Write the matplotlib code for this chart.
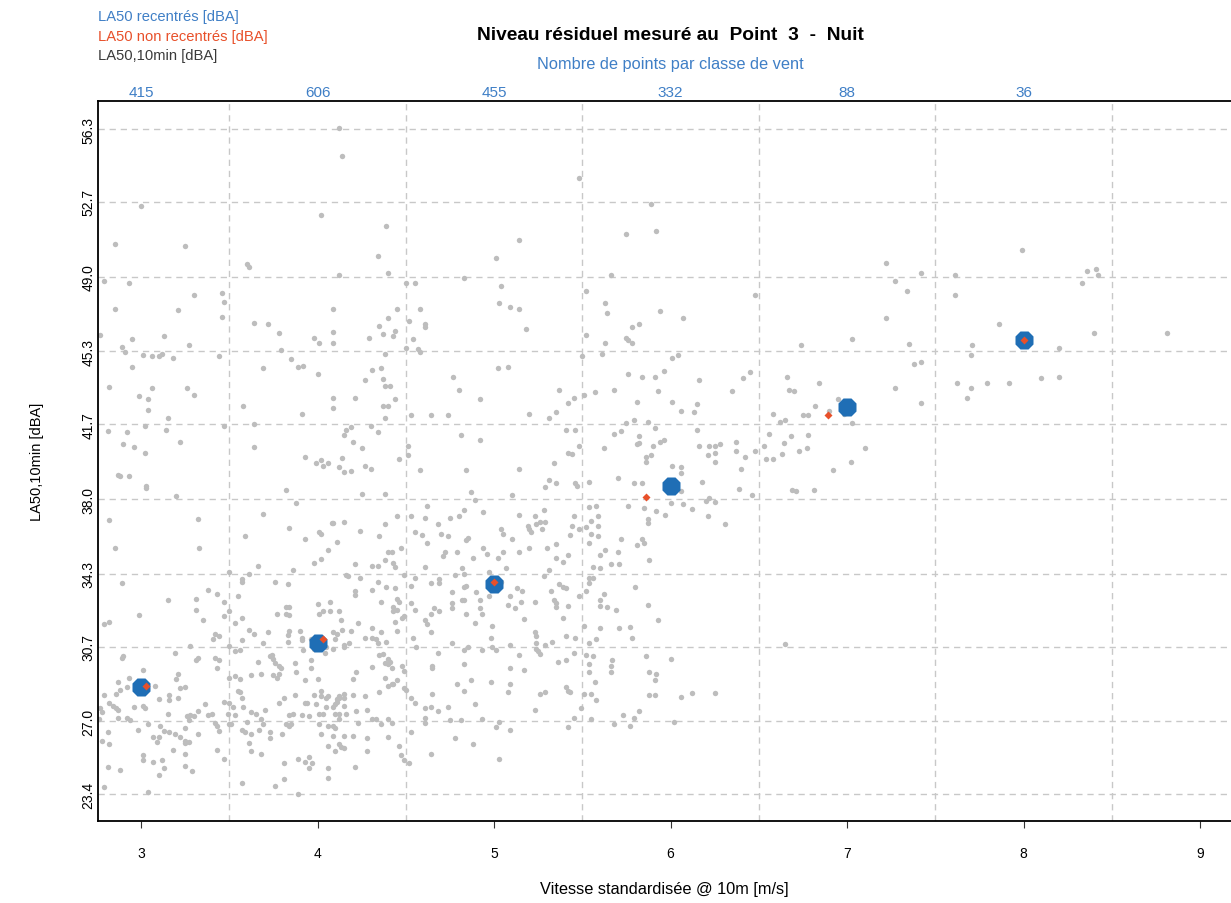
import matplotlib
matplotlib.use("Agg")
import matplotlib.pyplot as plt
import matplotlib.transforms as mtransforms
import numpy as np

plt.rcParams['font.family'] = ['Liberation Sans', 'DejaVu Sans']

# ---------------- data ----------------
# individual 10-min samples (wind speed [m/s], LA50 [dBA])
points_10min = [
    (4.12, 56.33), (4.14, 54.95), (3.00, 52.5), (4.02, 52.05), (4.39, 51.5), (2.85, 50.6), (3.25, 50.5),
    (4.34, 50.0), (3.60, 49.65), (3.61, 49.5), (4.12, 49.1), (4.40, 49.2), (2.79, 48.8), (2.93, 48.7),
    (3.30, 48.1), (3.46, 48.2), (3.47, 47.75), (3.46, 47.0), (2.85, 47.4), (3.21, 47.36), (4.09, 47.4),
    (4.40, 46.97), (3.64, 46.7), (3.72, 46.64), (3.78, 46.2), (2.77, 46.1), (2.95, 45.9), (3.13, 46.05),
    (3.98, 45.98), (4.09, 46.24), (4.29, 45.98), (4.35, 46.57), (4.37, 46.17),
    (5.48, 53.9), (5.89, 52.6), (5.75, 51.1), (5.92, 51.25), (5.14, 50.8), (5.01, 49.9), (5.66, 49.1),
    (4.83, 48.95), (4.50, 48.7), (4.55, 48.7), (5.04, 48.55), (5.52, 48.3), (4.45, 47.4), (4.58, 47.4),
    (5.03, 47.7), (5.09, 47.5), (5.14, 47.4), (5.63, 47.7), (5.64, 47.2), (5.94, 47.3), (6.07, 46.97),
    (4.52, 46.8), (4.61, 46.64), (4.61, 46.5), (5.18, 46.4), (4.44, 46.3), (4.43, 46.05), (4.54, 45.9),
    (5.52, 46.1), (5.75, 45.98), (5.78, 46.5), (5.82, 46.64),
    (6.48, 48.1), (7.22, 49.7), (7.27, 48.8), (7.42, 49.2), (7.34, 48.3), (7.61, 49.1), (7.61, 48.1),
    (7.22, 46.97), (7.03, 45.9),
    (7.99, 50.3), (8.36, 49.3), (8.41, 49.4), (8.42, 49.1), (8.33, 48.7), (7.86, 46.64), (8.40, 46.2),
    (8.81, 46.2),
    (7.71, 45.6), (8.20, 45.45), (7.70, 43.47), (7.79, 43.73), (7.92, 43.73), (8.10, 44.0), (8.20, 44.06),
    (6.74, 45.6), (7.35, 45.65), (7.38, 44.66), (7.42, 44.79), (7.70, 45.1), (7.62, 43.73), (7.68, 43.0),
    (7.42, 42.75), (7.27, 43.47), (6.16, 43.87), (6.41, 44.0), (6.45, 44.26), (6.35, 43.34), (6.66, 44.06),
    (6.84, 43.73), (6.67, 43.4), (6.70, 43.34), (6.95, 42.94), (6.82, 42.6), (6.90, 42.35), (6.98, 42.2),
    (6.75, 42.15), (6.78, 42.15), (6.58, 42.2), (6.62, 41.82), (6.65, 41.92), (6.15, 42.68), (6.13, 42.3),
    (6.06, 42.35), (7.03, 41.75), (6.15, 41.4), (6.56, 41.23), (6.68, 41.1), (6.78, 41.16), (6.16, 40.63),
    (6.22, 40.63), (6.25, 40.63), (6.28, 40.73), (6.25, 40.3), (6.21, 40.17), (6.37, 40.83), (6.37, 40.37),
    (6.53, 40.63), (6.64, 40.77), (6.48, 40.37), (6.42, 40.1), (6.54, 39.97), (6.58, 39.97), (6.63, 40.24),
    (6.73, 40.37), (6.77, 40.5), (7.10, 40.5), (6.25, 39.85), (6.40, 39.5), (7.02, 39.85), (6.92, 39.45),
    (6.06, 39.6), (6.06, 39.3), (6.18, 38.85), (6.39, 38.5), (6.46, 38.2), (6.69, 38.46), (6.71, 38.4),
    (6.81, 38.46), (6.06, 38.4), (6.07, 37.73), (6.12, 37.5), (6.20, 37.9), (6.22, 38.06), (6.25, 37.87),
    (6.21, 37.14), (6.31, 36.74),
    (6.65, 30.84), (6.06, 28.2), (6.12, 28.4), (6.25, 28.4),
    (4.50, 45.45), (4.57, 45.4), (4.58, 45.25), (5.50, 45.05), (5.61, 45.18), (5.63, 45.7), (5.76, 45.88),
    (5.78, 45.7), (6.01, 45.0), (6.04, 45.1), (5.02, 44.46), (5.08, 44.53), (4.77, 44.06), (5.76, 44.2),
    (5.84, 44.06), (5.91, 44.06), (5.96, 44.33), (4.44, 42.94), (4.80, 43.4), (4.92, 42.94), (5.37, 43.4),
    (5.57, 43.27), (5.51, 43.14), (5.68, 43.4), (5.93, 43.34), (5.45, 43.0), (5.42, 42.75), (5.81, 42.8),
    (6.01, 42.8), (4.53, 42.15), (4.64, 42.15), (4.74, 42.15), (5.20, 42.2), (5.31, 42.0), (5.35, 42.3),
    (4.81, 41.16), (4.92, 40.9), (5.41, 41.43), (5.46, 41.43), (5.68, 41.23), (5.72, 41.36), (5.75, 41.76),
    (5.79, 41.9), (5.87, 41.82), (5.91, 41.5), (5.82, 41.1), (5.81, 40.7), (5.82, 40.77), (5.90, 40.63),
    (5.94, 40.83), (5.96, 40.9), (5.62, 40.5), (5.48, 40.63), (4.51, 40.63), (4.51, 40.17), (4.46, 39.97),
    (5.42, 40.3), (5.44, 40.24), (5.86, 40.1), (5.89, 40.17), (5.86, 39.85), (4.58, 39.45), (4.84, 39.45),
    (5.14, 39.5), (5.34, 39.78), (6.01, 39.64), (5.70, 39.05), (5.31, 38.92), (5.35, 38.8), (5.29, 38.6),
    (5.46, 38.8), (5.47, 38.66), (5.54, 38.85), (5.79, 38.8), (5.84, 38.8), (4.87, 38.33), (4.89, 37.93),
    (5.10, 38.2), (5.76, 37.67), (5.85, 37.54), (6.00, 37.8), (5.92, 37.4), (5.97, 37.2), (5.87, 37.0),
    (5.87, 36.8), (4.62, 37.67), (4.45, 37.14), (4.53, 37.14), (4.61, 37.07), (4.75, 37.07), (4.80, 37.14),
    (4.83, 37.47), (4.94, 37.34), (5.14, 37.2), (5.23, 37.14), (5.28, 37.47), (5.45, 37.14), (5.54, 37.6),
    (5.58, 37.67), (5.59, 37.14), (4.68, 36.74), (5.19, 36.68), (5.24, 36.74), (5.26, 36.88), (5.29, 36.88),
    (5.44, 36.68), (5.55, 36.9), (5.52, 36.6), (5.59, 36.68), (5.48, 36.5), (4.55, 36.35), (4.59, 36.2),
    (4.70, 36.28), (4.74, 36.15), (4.85, 36.08), (4.84, 35.95), (5.04, 36.5), (5.05, 36.28), (5.20, 36.5),
    (5.21, 36.35), (5.27, 36.5), (5.43, 36.2), (5.55, 36.28), (5.59, 36.15), (5.10, 36.0), (4.62, 35.8),
    (5.30, 35.56), (5.35, 35.75), (5.54, 35.8), (5.72, 36.0), (5.81, 35.7), (5.84, 36.0), (5.85, 35.8),
    (4.94, 35.6), (4.96, 35.3), (4.47, 35.56), (4.42, 35.4), (4.72, 35.4), (4.71, 35.16), (4.79, 35.4),
    (4.88, 35.09), (5.05, 35.4), (5.02, 35.09), (5.14, 35.36), (5.20, 35.56), (5.35, 35.09), (5.39, 34.9),
    (5.42, 35.23), (5.60, 35.23), (5.63, 35.5), (5.70, 35.36), (5.66, 34.77), (5.71, 34.77), (5.88, 34.96),
    (4.43, 34.83), (4.44, 34.63), (4.61, 34.63), (4.82, 34.57), (5.07, 34.57), (5.31, 34.5), (5.56, 34.63),
    (5.60, 34.57), (4.49, 34.24), (4.55, 34.1), (4.69, 34.04), (4.78, 34.24), (4.83, 34.3), (4.97, 34.37),
    (5.28, 34.17), (5.54, 34.1), (5.56, 34.1),
    (4.44, 33.58), (4.45, 33.05), (4.46, 32.92), (4.43, 32.65), (4.43, 32.46), (4.45, 32.52), (4.53, 33.71),
    (4.64, 33.84), (4.69, 33.84), (4.83, 33.64), (4.84, 33.71), (4.76, 33.38), (4.90, 33.38), (4.82, 32.99),
    (4.83, 32.99), (4.76, 32.85), (4.76, 32.6), (4.92, 32.99), (4.53, 32.85), (4.55, 32.52), (4.66, 32.6),
    (4.64, 32.33), (4.69, 32.46), (4.92, 32.6), (4.93, 32.33), (4.84, 32.33), (4.97, 33.19), (5.04, 33.9),
    (5.08, 32.78), (5.09, 33.19), (5.13, 33.58), (5.16, 33.45), (5.12, 32.6), (5.15, 32.92), (5.23, 32.92),
    (5.32, 33.45), (5.37, 33.78), (5.39, 33.64), (5.41, 33.58), (5.34, 32.99), (5.35, 32.85), (5.35, 32.65),
    (5.42, 32.72), (5.39, 32.12), (5.48, 33.19), (5.52, 33.45), (5.54, 33.84), (5.62, 33.31), (5.60, 32.99),
    (5.60, 32.72), (5.64, 32.65), (5.69, 32.52), (5.80, 33.64), (5.87, 32.78), (5.93, 31.99), (5.77, 31.66),
    (5.78, 31.13), (5.71, 31.6), (5.60, 31.6), (5.58, 31.07), (5.54, 30.87), (5.51, 31.73), (5.46, 31.13),
    (5.41, 31.2), (5.17, 32.06), (5.23, 31.4), (5.24, 31.2), (5.24, 30.87), (5.25, 30.48), (5.26, 30.34),
    (5.24, 30.6), (5.29, 30.8), (5.33, 30.94), (4.89, 31.86), (4.99, 31.73), (4.64, 31.4), (4.61, 31.99),
    (4.62, 31.8), (4.44, 31.93), (4.45, 31.47), (4.49, 32.2), (4.48, 32.12), (4.54, 31.13), (4.56, 30.67),
    (4.76, 30.87), (4.68, 30.4), (4.83, 30.54), (4.85, 30.67), (4.93, 30.54), (4.98, 31.13), (4.99, 30.67),
    (5.01, 30.54), (5.09, 30.8), (5.14, 30.28), (4.41, 29.95), (4.42, 29.62), (4.48, 29.75), (4.49, 29.49),
    (4.65, 29.75), (4.65, 29.62), (4.83, 29.82), (5.09, 29.62), (5.17, 29.55), (5.36, 29.95), (5.41, 30.02),
    (5.45, 30.4), (5.52, 30.28), (5.56, 30.22), (5.54, 29.82), (5.54, 29.43), (5.66, 29.43), (5.66, 29.75),
    (5.67, 30.02), (5.86, 30.22), (6.00, 30.08), (5.88, 29.43), (5.92, 29.36), (5.91, 29.03), (5.88, 28.3),
    (5.91, 28.3), (5.57, 28.97), (5.51, 28.37), (5.55, 28.37), (5.58, 28.04), (5.49, 27.64), (5.55, 27.11),
    (5.42, 26.72), (5.45, 27.18), (5.41, 28.7), (5.42, 28.5), (5.43, 28.43), (5.26, 28.37), (5.29, 28.43),
    (5.23, 27.58), (5.08, 28.43), (5.09, 28.83), (4.98, 28.97), (4.87, 29.03), (4.79, 28.83), (4.83, 28.5),
    (4.65, 28.37), (4.89, 27.84), (4.74, 27.71), (4.61, 27.64), (4.64, 27.71), (4.68, 27.51), (4.61, 27.18),
    (4.61, 26.92), (4.75, 27.05), (4.81, 27.05), (4.93, 27.11), (5.01, 26.72), (5.03, 26.98), (5.09, 26.58),
    (4.53, 28.17), (4.55, 27.9), (4.49, 28.63), (4.50, 28.57), (4.43, 28.83), (4.45, 29.03), (4.53, 26.45),
    (4.46, 25.79), (4.47, 25.33), (4.49, 25.07), (4.52, 24.94), (4.64, 25.4), (4.78, 26.19), (4.88, 25.86),
    (5.03, 25.13), (5.68, 26.85), (5.73, 27.3), (5.77, 26.78), (5.79, 27.18), (5.82, 27.51), (6.02, 26.98),
    (2.89, 45.5), (2.91, 45.25), (3.01, 45.1), (3.06, 45.05), (3.10, 45.05), (3.12, 45.18), (3.18, 44.99),
    (3.27, 45.6), (3.44, 45.05), (2.95, 44.53), (2.82, 43.54), (2.99, 43.08), (3.04, 42.94), (3.06, 43.47),
    (3.26, 43.47), (3.30, 43.14), (3.04, 42.4), (3.15, 42.0), (2.81, 41.36), (2.92, 41.3), (3.02, 41.63),
    (3.14, 41.43), (3.22, 40.83), (2.90, 40.7), (2.96, 40.57), (3.02, 40.3), (3.47, 41.63), (2.87, 39.18),
    (2.88, 39.12), (2.93, 39.12), (3.03, 38.65), (3.03, 38.53), (3.20, 38.13), (2.82, 36.94), (3.32, 37.0),
    (2.85, 35.6), (3.33, 35.6), (3.50, 34.37), (3.57, 34.04), (3.61, 34.3), (3.66, 34.7), (3.86, 34.5),
    (3.98, 34.83), (4.02, 35.03), (4.06, 35.5), (4.11, 35.89), (4.16, 34.24), (4.17, 34.17), (4.21, 34.77),
    (4.24, 34.1), (4.31, 34.7), (4.34, 34.7), (4.38, 34.96), (4.40, 35.4), (4.35, 36.15), (4.38, 36.74),
    (4.24, 36.41), (4.15, 36.88), (4.08, 36.8), (4.09, 36.8), (4.01, 36.35), (4.02, 36.28), (3.93, 36.0),
    (3.84, 36.55), (3.69, 37.27), (3.59, 36.15), (3.88, 37.8), (3.82, 38.46), (4.25, 38.26), (4.38, 38.26),
    (3.93, 40.1), (3.99, 39.78), (4.02, 39.91), (4.03, 39.64), (4.06, 39.78), (4.12, 39.58), (4.15, 39.32),
    (4.19, 39.38), (4.14, 40.04), (4.27, 39.64), (4.30, 39.5), (4.25, 40.5), (4.20, 40.83), (4.15, 41.16),
    (4.16, 41.43), (4.19, 41.56), (4.30, 41.63), (4.34, 41.3), (4.38, 42.0), (4.37, 42.6), (4.40, 42.6),
    (4.09, 43.0), (4.09, 42.48), (4.21, 43.0), (3.91, 42.2), (3.58, 42.6), (3.64, 41.69), (3.64, 40.57),
    (4.27, 43.87), (4.31, 44.39), (4.36, 44.46), (4.37, 43.93), (4.38, 43.6), (4.41, 43.6), (4.38, 45.18),
    (3.69, 44.46), (3.79, 45.38), (3.85, 44.92), (3.89, 44.53), (3.92, 44.59), (4.00, 44.2), (4.01, 45.71),
    (4.09, 45.71),
    (2.89, 33.84), (2.99, 32.26), (3.15, 32.99), (2.79, 31.8), (2.82, 31.93), (2.89, 30.15), (2.90, 30.22),
    (3.01, 29.55), (2.93, 29.16), (2.87, 28.96), (2.88, 28.56), (2.86, 28.37), (2.92, 28.7), (2.79, 28.3),
    (2.82, 27.9), (2.84, 27.77), (2.86, 27.64), (2.87, 27.58), (2.77, 27.64), (2.78, 27.44), (2.76, 27.11),
    (2.96, 27.71), (3.01, 27.77), (3.02, 27.64), (3.08, 28.76), (3.10, 28.1), (3.16, 28.3), (3.21, 29.36),
    (3.20, 29.09), (3.22, 28.63), (3.25, 28.7), (3.16, 28.04), (3.21, 28.17), (3.15, 27.38), (3.04, 26.85),
    (2.98, 26.58), (2.92, 27.18), (2.94, 27.05), (2.87, 27.18), (2.81, 26.45), (2.78, 26.05), (2.82, 25.86),
    (3.11, 26.78), (3.13, 26.52), (3.16, 26.45), (3.07, 26.22), (3.10, 26.22), (3.09, 25.99), (3.19, 26.39),
    (3.22, 26.22), (3.25, 26.65), (3.27, 27.05), (3.28, 27.31), (3.26, 27.25), (3.30, 27.25), (3.25, 26.05),
    (3.25, 25.92), (3.27, 25.99), (3.32, 26.39), (3.32, 27.51), (3.38, 27.31), (3.36, 27.84), (3.40, 27.38),
    (3.42, 26.92), (3.43, 26.78), (3.44, 26.52), (3.18, 25.6), (3.25, 25.4), (3.01, 25.33), (3.01, 25.07),
    (3.07, 25.0), (3.12, 25.07), (3.13, 24.67), (3.10, 24.34), (3.25, 24.8), (3.29, 24.54), (2.81, 24.74),
    (2.88, 24.6), (2.79, 23.75), (3.04, 23.49), (3.38, 33.51), (3.43, 33.31), (3.31, 33.05), (3.31, 32.52),
    (3.47, 32.92), (3.50, 32.46), (3.47, 32.2), (3.35, 31.99), (3.42, 31.34), (3.41, 31.07), (3.44, 31.2),
    (3.50, 30.74), (3.28, 30.74), (3.19, 30.4), (3.32, 30.15), (3.31, 30.02), (3.42, 30.15), (3.44, 30.02),
    (3.43, 29.62), (3.47, 27.98), (3.50, 27.9), (3.52, 27.71), (3.49, 27.38), (3.50, 26.85), (3.51, 26.85),
    (3.53, 27.31), (3.60, 26.98), (3.57, 26.58), (3.59, 26.45), (3.62, 26.39), (3.67, 26.58), (3.68, 27.11),
    (3.69, 26.85), (3.73, 26.45), (3.61, 25.92), (3.68, 25.4), (3.62, 25.53), (3.73, 26.19), (3.56, 28.43),
    (3.55, 28.5), (3.57, 28.17), (3.58, 27.71), (3.62, 27.44), (3.65, 27.38), (3.70, 27.58), (3.53, 29.23),
    (3.56, 29.09), (3.50, 29.16), (3.56, 30.54), (3.53, 30.48), (3.57, 31.0), (3.53, 31.86), (3.57, 32.12),
    (3.61, 31.53), (3.64, 31.34), (3.72, 31.4), (3.55, 33.19), (3.57, 33.9), (3.66, 29.95), (3.68, 29.36),
    (3.62, 29.29), (3.75, 29.29), (3.78, 29.36), (3.77, 29.16), (3.73, 30.22), (3.75, 30.08), (3.74, 30.28),
    (3.76, 29.88), (3.78, 29.75), (3.79, 29.62), (3.69, 30.87), (3.77, 32.33), (3.82, 32.65), (3.84, 32.65),
    (3.82, 32.33), (3.84, 32.26), (3.76, 33.9), (3.83, 33.78), (3.84, 31.47), (3.83, 31.27), (3.83, 30.94),
    (3.90, 31.47), (3.91, 31.13), (3.92, 30.54), (3.87, 29.88), (3.88, 29.43), (3.96, 29.62), (3.96, 30.02),
    (4.00, 29.09), (3.93, 29.03), (3.87, 28.3), (3.81, 28.17), (3.78, 27.9), (3.93, 27.9), (3.86, 27.38),
    (3.84, 27.31), (3.91, 27.31), (3.82, 26.85), (3.84, 26.78), (3.85, 26.85), (3.80, 26.39), (3.95, 27.25),
    (3.98, 28.3), (4.02, 28.5), (4.02, 28.23), (4.05, 28.17), (4.06, 28.23), (3.94, 27.9), (3.99, 27.84),
    (4.01, 27.38), (4.03, 27.38), (4.05, 27.71), (4.01, 26.85), (4.06, 26.78), (4.02, 26.39), (4.09, 26.78),
    (4.10, 26.65), (4.09, 26.26), (4.10, 27.38), (4.12, 27.38), (4.12, 28.23), (4.12, 28.17), (4.11, 28.1),
    (4.15, 28.17), (4.10, 27.84), (4.11, 27.98), (4.15, 27.77), (4.09, 27.71), (4.16, 27.38), (4.15, 28.37),
    (4.20, 28.3), (4.22, 27.51), (4.12, 27.11), (4.23, 26.92), (4.15, 26.26), (4.20, 26.26), (4.12, 25.86),
    (4.13, 25.72), (4.15, 25.66), (4.10, 25.53), (4.06, 25.79), (4.28, 26.19), (4.28, 25.53), (4.21, 24.74),
    (4.06, 24.67), (4.06, 24.21), (3.89, 25.13), (3.93, 25.0), (3.95, 25.26), (3.95, 24.67), (3.97, 24.94),
    (3.81, 24.94), (3.81, 24.14), (3.76, 23.81), (3.89, 23.42), (3.57, 23.95), (3.47, 25.13), (3.43, 25.6),
    (4.28, 27.58), (4.31, 27.11), (4.33, 27.11), (4.36, 26.85), (4.40, 27.11), (4.42, 26.92), (4.40, 26.22),
    (4.27, 28.23), (4.35, 28.43), (4.40, 28.76), (4.20, 29.09), (4.22, 29.43), (4.31, 29.69), (4.38, 29.16),
    (4.42, 28.83), (4.38, 29.88), (4.40, 29.82), (4.35, 30.28), (4.15, 30.8), (4.18, 30.87), (4.15, 30.67),
    (4.09, 30.6), (4.10, 31.07), (4.04, 30.4), (3.98, 30.6), (4.05, 30.67), (4.09, 31.4), (4.11, 31.34),
    (4.14, 31.53), (4.19, 31.47), (4.13, 31.99), (4.03, 32.46), (4.07, 32.46), (4.12, 32.46), (4.00, 32.79),
    (4.07, 32.92), (4.01, 32.33), (3.96, 31.07), (3.91, 31.0), (4.27, 31.13), (4.31, 31.13), (4.31, 31.6),
    (4.36, 31.4), (4.33, 31.07), (4.34, 30.87), (4.39, 30.94), (4.39, 33.64), (4.31, 33.51), (4.34, 33.9),
    (4.36, 32.92), (4.21, 33.45), (4.21, 33.25), (4.23, 31.86), (4.37, 30.34), (4.40, 30.08),
]

# wind classes and class results
class_speed = [3, 4, 5, 6, 7, 8]
la50_recentre = [28.69, 30.87, 33.79, 38.64, 42.55, 45.86]
speed_non_recentre = [3.03, 4.03, 5.00, 5.86, 6.89, 8.00]
la50_non_recentre = [28.74, 31.07, 33.9, 38.1, 42.15, 45.86]
n_points = [415, 606, 455, 332, 88, 36]

x_ticks = [3, 4, 5, 6, 7, 8, 9]
y_ticks = [23.4, 27.0, 30.7, 34.3, 38.0, 41.7, 45.3, 49.0, 52.7, 56.3]
y_tick_labels = ["23.4", "27.0", "30.7", "34.3", "38.0", "41.7", "45.3", "49.0", "52.7", "56.3"]
x_grid = [3.5, 4.5, 5.5, 6.5, 7.5, 8.5]

# ---------------- styles ----------------
BLUE_TXT = "#3f7fc6"
BLUE_MK = "#1f6eb5"
RED = "#e8502a"
GRAY = "#bdbdbd"
GRID = "#c8c8c8"

W, H = 1231, 904
fig = plt.figure(figsize=(W / 100, H / 100), dpi=100)
ax = fig.add_axes([98 / W, 1 - 822 / H, (1231 - 98) / W, (822 - 102) / H])

ax.set_xlim(2.756, 9.175)
ax.set_ylim(22.07, 57.69)

for xv in x_grid:
    ax.axvline(xv, color=GRID, lw=1.0, ls=(0, (4.5, 3.5)), zorder=0)
for yv in y_ticks:
    ax.axhline(yv, color=GRID, lw=1.0, ls=(0, (4.5, 3.5)), zorder=0)

px = [p[0] for p in points_10min]
py = [p[1] for p in points_10min]
ax.plot(px, py, ls="none", marker="o", ms=3.9, mfc=GRAY, mec="none", zorder=2)
ax.plot(class_speed, la50_recentre, ls="none", marker="8", ms=14.5, mfc=BLUE_MK, mec="none", zorder=3)
ax.plot(speed_non_recentre, la50_non_recentre, ls="none", marker="D", ms=4.4, mfc=RED, mec="none", zorder=4)

ax.set_xticks(x_ticks)
ax.set_xticklabels([str(v) for v in x_ticks], fontsize=10)
ax.set_yticks(y_ticks)
ax.set_yticklabels(y_tick_labels, fontsize=10, rotation=90, va="center")
ax.tick_params(axis="x", direction="out", length=5, width=0.8, color="#333333", pad=13)
ax.tick_params(axis="y", direction="out", length=0, pad=2)

for s in ["left", "bottom", "top"]:
    ax.spines[s].set_color("black")
    ax.spines[s].set_linewidth(1.3)
ax.spines["right"].set_visible(False)

ax.set_xlabel("Vitesse standardisée @ 10m [m/s]", fontsize=11.8, labelpad=15)
ax.set_ylabel("LA50,10min [dBA]", fontsize=10.5, labelpad=27)

# counts per wind class above the plot
trans = mtransforms.blended_transform_factory(ax.transData, ax.transAxes)
for xv, n in zip(class_speed, n_points):
    ax.text(xv, 1.003, str(n), transform=trans, ha="center", va="bottom", color=BLUE_TXT, fontsize=11)

cx = 670 / W
fig.text(cx, 1 - 36 / H, "Niveau résiduel mesuré au  Point  3  -  Nuit", ha="center", va="center",
         fontsize=13.8, fontweight="bold", color="black")
fig.text(cx, 1 - 64 / H, "Nombre de points par classe de vent", ha="center", va="center",
         fontsize=11.8, color=BLUE_TXT)

fig.text(98 / W, 1 - 17 / H, "LA50 recentrés [dBA]", ha="left", va="center", fontsize=10.6, color=BLUE_TXT)
fig.text(98 / W, 1 - 37 / H, "LA50 non recentrés [dBA]", ha="left", va="center", fontsize=10.6, color=RED)
fig.text(98 / W, 1 - 56 / H, "LA50,10min [dBA]", ha="left", va="center", fontsize=10.6, color="#3a3a3a")

fig.savefig("out.png", dpi=100)
